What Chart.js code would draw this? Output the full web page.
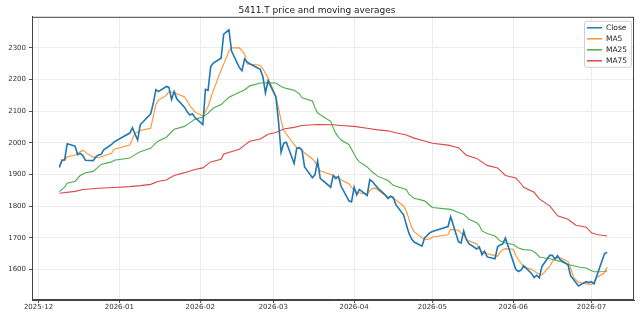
<!DOCTYPE html>
<html>
<head>
<meta charset="utf-8">
<script src="https://cdn.jsdelivr.net/npm/chart.js@4.4.0/dist/chart.umd.min.js"></script>
<style>
  html, body { margin: 0; padding: 0; background: #fff; }
  #wrap { width: 640px; height: 320px; }
</style>
</head>
<body>
<div id="wrap"><canvas id="chart" width="640" height="320"></canvas></div>
<script>
// ===== DATA =====
var closeDates = [
  '2025-12-09','2025-12-10','2025-12-11','2025-12-12','2025-12-15','2025-12-16','2025-12-17','2025-12-18','2025-12-19',
  '2025-12-22','2025-12-23','2025-12-24','2025-12-25','2025-12-26','2025-12-29','2025-12-30',
  '2026-01-05','2026-01-06','2026-01-07','2026-01-08','2026-01-09','2026-01-13','2026-01-14','2026-01-15','2026-01-16',
  '2026-01-19','2026-01-20','2026-01-21','2026-01-22','2026-01-23','2026-01-26','2026-01-27','2026-01-28','2026-01-29','2026-01-30',
  '2026-02-02','2026-02-03','2026-02-04','2026-02-05','2026-02-06','2026-02-09','2026-02-10','2026-02-12','2026-02-13',
  '2026-02-16','2026-02-17','2026-02-18','2026-02-19','2026-02-20','2026-02-24','2026-02-25','2026-02-26','2026-02-27',
  '2026-03-02','2026-03-03','2026-03-04','2026-03-05','2026-03-06','2026-03-09','2026-03-10','2026-03-11','2026-03-12','2026-03-13',
  '2026-03-16','2026-03-17','2026-03-18','2026-03-19','2026-03-23','2026-03-24','2026-03-25','2026-03-26','2026-03-27',
  '2026-03-30','2026-03-31','2026-04-01','2026-04-02','2026-04-03','2026-04-06','2026-04-07','2026-04-08','2026-04-09','2026-04-10',
  '2026-04-13','2026-04-14','2026-04-15','2026-04-16','2026-04-17','2026-04-20','2026-04-21','2026-04-22','2026-04-23','2026-04-24',
  '2026-04-27','2026-04-28','2026-04-30','2026-05-01','2026-05-07','2026-05-08','2026-05-11','2026-05-12','2026-05-13','2026-05-14','2026-05-15',
  '2026-05-18','2026-05-19','2026-05-20','2026-05-21','2026-05-22','2026-05-25','2026-05-26','2026-05-27','2026-05-28','2026-05-29',
  '2026-06-01','2026-06-02','2026-06-03','2026-06-04','2026-06-05','2026-06-08','2026-06-09','2026-06-10','2026-06-11','2026-06-12',
  '2026-06-15','2026-06-16','2026-06-17','2026-06-18','2026-06-19','2026-06-22','2026-06-23','2026-06-24','2026-06-25','2026-06-26',
  '2026-06-29','2026-06-30','2026-07-01','2026-07-02','2026-07-03','2026-07-06','2026-07-07'
];
var closeValues = [
  1922,1946,1946,1997,1990,1963,1967,1960,1945,
  1944,1956,1962,1964,1978,1995,2003,
  2031,2048,2028,2009,2057,2092,2125,2168,2162,
  2178,2175,2137,2162,2139,2112,2098,2088,2092,2080,
  2058,2169,2166,2240,2252,2267,2343,2357,2290,
  2238,2228,2265,2255,2250,2232,2210,2158,2196,
  2145,2068,1970,1999,2002,1935,1983,1985,1978,1924,
  1890,1900,1943,1888,1860,1897,1887,1894,1863,
  1817,1814,1860,1836,1853,1834,1884,1878,1868,1858,
  1835,1824,1832,1828,1805,1772,1742,1715,1697,1687,
  1674,1700,1716,1720,1736,1767,1688,1684,1722,1695,1682,
  1665,1672,1647,1658,1640,1634,1672,1678,1681,1700,
  1625,1600,1594,1598,1612,1588,1575,1582,1574,1610,
  1645,1645,1633,1644,1631,1615,1580,1570,1559,1548,
  1562,1559,1562,1555,1580,1650,1655
];

var ma5Dates = [
  '2025-12-09','2025-12-10','2025-12-11','2025-12-12','2025-12-15','2025-12-16','2025-12-18','2025-12-19','2025-12-22',
  '2025-12-24','2025-12-25','2025-12-29','2025-12-30','2026-01-05','2026-01-07','2026-01-09','2026-01-13','2026-01-14',
  '2026-01-15','2026-01-16','2026-01-19','2026-01-20','2026-01-22','2026-01-26','2026-01-28','2026-01-30',
  '2026-02-02','2026-02-03','2026-02-04','2026-02-05','2026-02-06','2026-02-09','2026-02-10','2026-02-12','2026-02-13',
  '2026-02-16','2026-02-18','2026-02-19','2026-02-20','2026-02-24','2026-02-25','2026-02-26','2026-02-27',
  '2026-03-02','2026-03-03','2026-03-04','2026-03-05','2026-03-06','2026-03-09','2026-03-10','2026-03-12','2026-03-13',
  '2026-03-16','2026-03-17','2026-03-18','2026-03-19','2026-03-23','2026-03-24','2026-03-26','2026-03-27','2026-03-30','2026-03-31',
  '2026-04-01','2026-04-02','2026-04-03','2026-04-06','2026-04-07','2026-04-08','2026-04-09','2026-04-10','2026-04-13','2026-04-15',
  '2026-04-17','2026-04-20','2026-04-21','2026-04-22','2026-04-23','2026-04-24','2026-04-27','2026-04-28','2026-04-30','2026-05-01',
  '2026-05-07','2026-05-08','2026-05-11','2026-05-12','2026-05-13','2026-05-14','2026-05-15','2026-05-18','2026-05-19','2026-05-20',
  '2026-05-22','2026-05-25','2026-05-26','2026-05-27','2026-05-28','2026-05-29','2026-06-01','2026-06-02','2026-06-03','2026-06-04',
  '2026-06-05','2026-06-08','2026-06-09','2026-06-10','2026-06-11','2026-06-12','2026-06-15','2026-06-16','2026-06-17','2026-06-18',
  '2026-06-19','2026-06-22','2026-06-23','2026-06-24','2026-06-25','2026-06-26','2026-06-29','2026-06-30','2026-07-01','2026-07-02',
  '2026-07-03','2026-07-06','2026-07-07'
];
var ma5Values = [
  1929,1943,1945,1956,1961,1967,1977,1970,1955,
  1953,1956,1967,1980,1993,2030,2039,2046,2084,
  2121,2135,2150,2162,2158,2145,2118,2097,
  2085,2100,2115,2140,2165,2230,2249,2290,2300,
  2300,2281,2249,2248,2245,2233,2220,2205,
  2148,2110,2070,2040,2028,1995,1985,1978,1968,
  1950,1940,1925,1912,1900,1897,1890,1883,1871,1860,
  1850,1844,1842,1838,1850,1856,1857,1852,1833,1829,
  1820,1800,1785,1760,1735,1720,1700,1695,1697,1703,
  1710,1727,1724,1715,1710,1698,1690,1682,1665,1657,
  1650,1644,1642,1655,1663,1666,1664,1645,1631,1620,
  1610,1600,1596,1590,1585,1583,1610,1625,1637,1637,
  1637,1626,1605,1578,1568,1560,1555,1554,1553,1560,
  1575,1590,1608
];

var ma25Dates = [
  '2025-12-09','2025-12-11','2025-12-12','2025-12-15','2025-12-17','2025-12-19','2025-12-22','2025-12-25','2025-12-29','2025-12-30',
  '2026-01-05','2026-01-07','2026-01-09','2026-01-13','2026-01-15','2026-01-16','2026-01-19','2026-01-22','2026-01-26','2026-01-28',
  '2026-01-30','2026-02-02','2026-02-04','2026-02-06','2026-02-09','2026-02-12','2026-02-16','2026-02-18','2026-02-20','2026-02-24',
  '2026-02-27','2026-03-02','2026-03-04','2026-03-06','2026-03-09','2026-03-11','2026-03-12','2026-03-16','2026-03-17','2026-03-18',
  '2026-03-19','2026-03-23','2026-03-24','2026-03-25','2026-03-26','2026-03-27','2026-03-30','2026-03-31','2026-04-01','2026-04-02',
  '2026-04-03','2026-04-06','2026-04-08','2026-04-10','2026-04-14','2026-04-16','2026-04-17','2026-04-21','2026-04-22','2026-04-24',
  '2026-04-28','2026-04-30','2026-05-01','2026-05-07','2026-05-08','2026-05-11','2026-05-13','2026-05-15','2026-05-18','2026-05-19',
  '2026-05-20','2026-05-22','2026-05-25','2026-05-27','2026-05-29','2026-06-01','2026-06-03','2026-06-05','2026-06-08','2026-06-10',
  '2026-06-11','2026-06-12','2026-06-15','2026-06-17','2026-06-19','2026-06-22','2026-06-24','2026-06-26','2026-06-29','2026-07-01',
  '2026-07-02','2026-07-03','2026-07-06','2026-07-07'
];
var ma25Values = [
  1846,1860,1873,1879,1897,1906,1910,1932,1940,1945,
  1952,1963,1972,1983,2000,2006,2018,2043,2052,2063,
  2075,2081,2094,2110,2121,2144,2160,2167,2180,2189,
  2190,2189,2178,2172,2166,2155,2142,2132,2110,2095,
  2089,2068,2047,2030,2018,2009,1995,1980,1965,1950,
  1940,1924,1908,1895,1881,1866,1863,1853,1838,1825,
  1817,1803,1796,1791,1790,1780,1775,1759,1748,1740,
  1722,1714,1706,1690,1684,1679,1668,1663,1661,1650,
  1640,1638,1634,1630,1626,1616,1612,1608,1605,1596,
  1593,1593,1594,1596
];

var ma75Dates = [
  '2025-12-09','2025-12-15','2025-12-18','2025-12-24','2025-12-30','2026-01-05','2026-01-09','2026-01-13','2026-01-16','2026-01-19',
  '2026-01-22','2026-01-26','2026-01-30','2026-02-02','2026-02-05','2026-02-09','2026-02-10','2026-02-16','2026-02-18','2026-02-20',
  '2026-02-24','2026-02-27','2026-03-02','2026-03-05','2026-03-09','2026-03-12','2026-03-18','2026-03-24','2026-03-27','2026-04-01',
  '2026-04-06','2026-04-10','2026-04-14','2026-04-17','2026-04-21','2026-04-24','2026-04-28','2026-05-01','2026-05-07','2026-05-11',
  '2026-05-14','2026-05-18','2026-05-22','2026-05-26','2026-05-29','2026-06-02','2026-06-04','2026-06-05','2026-06-09','2026-06-11',
  '2026-06-15','2026-06-18','2026-06-22','2026-06-25','2026-06-29','2026-07-01','2026-07-03','2026-07-07'
];
var ma75Values = [
  1841,1847,1853,1857,1859,1862,1865,1869,1879,1883,
  1897,1906,1916,1921,1940,1948,1965,1980,1993,2005,
  2012,2027,2033,2044,2049,2055,2058,2057,2055,2052,
  2046,2041,2038,2032,2025,2015,2006,1999,1993,1985,
  1961,1951,1929,1921,1897,1889,1871,1860,1844,1823,
  1801,1770,1759,1740,1734,1716,1711,1706
];

var monthTickDates = ['2025-12-01','2026-01-01','2026-02-01','2026-03-01','2026-04-01','2026-05-01','2026-06-01','2026-07-01'];
var monthTickLabels = ['2025-12','2026-01','2026-02','2026-03','2026-04','2026-05','2026-06','2026-07'];
var yTicks = [1600, 1700, 1800, 1900, 2000, 2100, 2200, 2300];

// ===== HELPERS =====
var BASE = Date.UTC(2025, 11, 1);
function dayNum(s) {
  var p = s.split('-');
  return (Date.UTC(+p[0], +p[1] - 1, +p[2]) - BASE) / 86400000;
}
function toPoints(dates, values) {
  return dates.map(function(d, i) { return { x: dayNum(d), y: values[i] }; });
}
var monthTickDays = monthTickDates.map(dayNum);

var FONT = "'DejaVu Sans', sans-serif";

// legend drawn inside the plot, top-right (like matplotlib's loc='upper right')
var insideLegend = {
  id: 'insideLegend',
  afterDatasetsDraw: function(chart) {
    var ctx = chart.ctx, ca = chart.chartArea;
    var w = 47, h = 46;
    var x0 = ca.right - w - 3, y0 = ca.top + 4;
    ctx.save();
    ctx.fillStyle = 'rgba(255,255,255,0.85)';
    ctx.strokeStyle = '#d0d0d0';
    ctx.lineWidth = 1;
    ctx.beginPath();
    ctx.roundRect(x0 + 0.5, y0 + 0.5, w, h, 2);
    ctx.fill();
    ctx.stroke();
    ctx.font = '7.5px ' + FONT;
    ctx.textBaseline = 'middle';
    ctx.fillStyle = '#222';
    chart.data.datasets.forEach(function(ds, i) {
      var y = y0 + 7 + i * 11;
      ctx.strokeStyle = ds.borderColor;
      ctx.lineWidth = 1.5;
      ctx.beginPath();
      ctx.moveTo(x0 + 3, y);
      ctx.lineTo(x0 + 18, y);
      ctx.stroke();
      ctx.fillText(ds.label, x0 + 22, y + 0.5);
    });
    ctx.restore();
  }
};

// full frame around the axes
var frame = {
  id: 'frame',
  afterDraw: function(chart) {
    var ctx = chart.ctx, ca = chart.chartArea;
    ctx.save();
    ctx.strokeStyle = '#444';
    ctx.lineWidth = 1;
    ctx.strokeRect(ca.left + 0.5, ca.top + 0.5, ca.right - ca.left - 1, ca.bottom - ca.top - 1);
    ctx.restore();
  }
};

function lineSet(label, color, width, pts) {
  return {
    label: label,
    data: pts,
    borderColor: color,
    backgroundColor: color,
    borderWidth: width,
    pointRadius: 0,
    tension: 0,
    fill: false
  };
}

new Chart(document.getElementById('chart'), {
  type: 'line',
  data: {
    datasets: [
      lineSet('Close', '#1f77b4', 1.6, toPoints(closeDates, closeValues)),
      lineSet('MA5', 'rgba(255,127,14,0.85)', 1.1, toPoints(ma5Dates, ma5Values)),
      lineSet('MA25', 'rgba(44,160,44,0.85)', 1.1, toPoints(ma25Dates, ma25Values)),
      lineSet('MA75', 'rgba(214,39,40,0.85)', 1.1, toPoints(ma75Dates, ma75Values))
    ]
  },
  options: {
    responsive: false,
    animation: false,
    parsing: false,
    layout: { padding: { left: 0, right: 6, top: 0, bottom: 0 } },
    plugins: {
      legend: { display: false },
      tooltip: { enabled: false },
      title: {
        display: true,
        text: '5411.T price and moving averages',
        color: '#222',
        font: { family: FONT, size: 9, weight: 'normal' },
        padding: { top: 5, bottom: 1 }
      }
    },
    scales: {
      x: {
        type: 'linear',
        min: -2.5,
        max: 228.3,
        afterBuildTicks: function(scale) {
          scale.ticks = monthTickDays.map(function(v) { return { value: v }; });
        },
        afterFit: function(scale) { scale.height = 20; },
        ticks: {
          autoSkip: false,
          maxRotation: 0,
          padding: 0,
          color: '#333',
          font: { family: FONT, size: 7 },
          callback: function(v) {
            var i = monthTickDays.indexOf(v);
            return i >= 0 ? monthTickLabels[i] : '';
          }
        },
        grid: { color: '#ececec', tickColor: '#555', tickLength: 3 },
        border: { color: '#444' }
      },
      y: {
        min: 1504,
        max: 2398,
        afterBuildTicks: function(scale) {
          scale.ticks = yTicks.map(function(v) { return { value: v }; });
        },
        afterFit: function(scale) { scale.width = 32; },
        ticks: {
          padding: 3,
          color: '#333',
          font: { family: FONT, size: 7 },
          callback: function(v) { return String(v); }
        },
        grid: { color: '#ececec', tickColor: '#555', tickLength: 3 },
        border: { color: '#444' }
      }
    }
  },
  plugins: [insideLegend, frame]
});
</script>
</body>
</html>
